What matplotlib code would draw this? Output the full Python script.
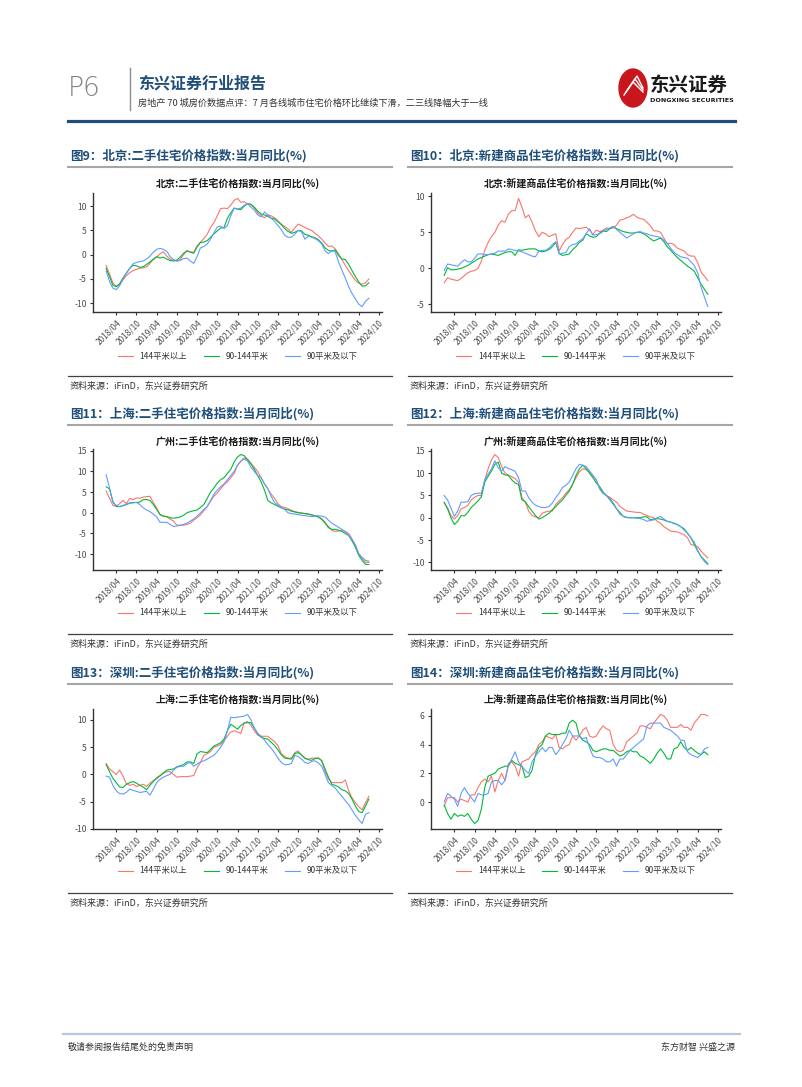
import numpy as np
import pandas as pd
import matplotlib
matplotlib.use('Agg')
import matplotlib.pyplot as plt
from matplotlib.lines import Line2D
from matplotlib.patches import Circle
from matplotlib.ticker import MultipleLocator, FormatStrFormatter

plt.rcParams['font.family'] = ['Noto Sans CJK SC', 'DejaVu Sans']
plt.rcParams['axes.unicode_minus'] = False

# ---- data: monthly YoY (%), 2018/01 - 2024/07 ----
months = pd.period_range('2018-01', '2024-07', freq='M')
tick_labels = ['2018/04', '2018/10', '2019/04', '2019/10', '2020/04', '2020/10', '2021/04',
               '2021/10', '2022/04', '2022/10', '2023/04', '2023/10', '2024/04', '2024/10']
series_names = ['144平米以上', '90-144平米', '90平米及以下']

bj_2nd_144 = [-2.2, -4.0, -5.8, -6.5, -6.2, -5.2, -4.3, -3.7, -3.3, -3.0, -2.8, -2.7, -2.5, -1.8, -1.0, -0.5,
              0.2, 0.6, -0.3, -0.9, -1.2, -1.3, -1.0, 0.0, 0.8, 0.6, 0.5, 1.8, 2.6, 3.3, 4.2, 5.6,
              6.6, 8.0, 9.5, 9.6, 9.5, 10.2, 11.2, 11.6, 10.8, 10.9, 10.5, 10.3, 9.6, 8.6, 8.1, 7.6,
              8.2, 8.0, 7.6, 7.0, 6.3, 5.8, 5.3, 4.6, 5.5, 6.3, 6.0, 5.6, 5.3, 5.0, 4.4, 3.9,
              3.2, 2.4, 1.7, 1.8, 1.2, 0.2, -1.0, -2.2, -3.3, -4.3, -5.3, -5.9, -6.1, -5.8, -5.0]
bj_2nd_90144 = [-2.8, -4.5, -6.3, -6.6, -6.0, -4.8, -3.8, -2.8, -2.2, -2.3, -2.6, -2.5, -2.0, -1.5, -0.9, -0.4,
                -0.7, -0.5, -0.9, -1.2, -1.3, -1.1, -0.5, 0.3, 0.8, 0.5, 0.3, 1.6, 2.5, 2.6, 2.9, 3.6,
                4.3, 4.9, 5.5, 5.6, 7.5, 8.6, 9.6, 9.4, 9.3, 10.0, 10.5, 10.4, 9.8, 9.0, 8.4, 8.2,
                7.9, 7.5, 7.4, 6.8, 6.2, 5.4, 4.8, 4.4, 4.6, 5.0, 4.9, 4.2, 4.0, 3.7, 3.5, 3.1,
                2.4, 1.4, 0.9, 0.7, 1.0, -0.2, -0.9, -1.0, -2.0, -3.3, -4.5, -5.6, -6.5, -6.4, -5.8]
bj_2nd_90 = [-3.3, -5.5, -6.9, -7.2, -6.4, -5.0, -3.8, -2.8, -1.9, -1.6, -1.4, -1.3, -0.9, -0.3, 0.5, 1.1,
             1.3, 1.1, 0.7, -0.4, -1.0, -1.3, -1.2, -0.8, -0.7, -1.3, -1.8, -0.4, 1.4, 1.7, 2.2, 3.2,
             4.5, 5.7, 5.9, 5.4, 6.0, 8.0, 9.6, 9.4, 9.6, 10.2, 10.5, 9.8, 9.2, 8.2, 7.8, 8.8,
             8.2, 7.5, 6.9, 6.0, 5.2, 4.0, 3.6, 3.6, 4.2, 5.0, 4.7, 3.2, 3.8, 3.6, 3.3, 2.9,
             2.2, 0.8, 0.2, 0.9, 0.6, -1.5, -3.2, -4.8, -6.6, -8.0, -9.1, -10.2, -10.7, -9.6, -9.0]

bj_new_144 = [-2.0, -1.3, -1.5, -1.6, -1.7, -1.4, -1.0, -0.6, -0.4, -0.3, 0.0, 1.0, 2.5, 3.6, 4.4, 5.0,
              6.0, 6.6, 6.4, 7.5, 8.0, 8.0, 9.7, 8.5, 7.0, 7.4, 6.4, 5.2, 4.4, 5.0, 4.8, 4.4,
              4.6, 4.8, 2.4, 3.3, 4.0, 4.3, 5.0, 5.6, 5.5, 5.6, 5.7, 5.3, 4.7, 5.3, 5.1, 5.3,
              5.6, 5.5, 5.6, 6.0, 6.7, 6.8, 7.0, 7.2, 7.5, 7.1, 6.9, 6.8, 6.4, 5.9, 5.2, 5.2,
              5.0, 4.2, 3.4, 3.5, 3.3, 2.8, 2.6, 2.4, 1.9, 1.7, 1.7, 0.8, -0.5, -1.1, -1.7]
bj_new_90144 = [-1.0, 0.1, -0.2, -0.2, -0.1, 0.0, 0.2, 0.4, 0.7, 1.0, 1.3, 1.5, 1.7, 1.9, 2.0, 1.9,
                1.8, 2.0, 2.2, 2.3, 2.3, 1.8, 2.6, 2.5, 2.6, 2.7, 2.7, 2.7, 2.4, 2.3, 2.4, 2.6,
                3.0, 3.6, 2.1, 1.8, 1.9, 2.0, 2.6, 3.0, 3.6, 3.9, 4.8, 4.5, 4.3, 4.4, 4.9, 5.2,
                5.1, 5.5, 5.8, 5.5, 5.3, 5.1, 5.0, 4.9, 4.9, 5.0, 5.0, 4.8, 4.5, 4.1, 3.8, 4.0,
                4.2, 3.7, 3.0, 2.5, 2.0, 1.5, 1.1, 0.7, 0.3, 0.0, -0.4, -1.3, -2.2, -2.9, -3.6]
bj_new_90 = [-0.3, 0.6, 0.5, 0.4, 0.3, 0.8, 1.2, 0.9, 0.9, 1.4, 2.0, 2.0, 1.9, 1.9, 2.0, 2.1,
             2.4, 2.4, 2.4, 2.7, 2.6, 2.5, 2.4, 2.3, 2.1, 1.9, 1.7, 1.6, 2.4, 2.5, 2.5, 2.8,
             3.3, 3.7, 2.0, 2.1, 2.2, 3.0, 3.3, 3.4, 3.8, 4.1, 4.8, 5.5, 4.6, 4.7, 4.8, 5.1,
             5.4, 5.6, 5.8, 5.4, 5.0, 4.6, 4.2, 4.5, 4.8, 5.0, 5.1, 4.9, 4.8, 4.6, 4.5, 4.4,
             4.3, 3.9, 3.5, 2.8, 2.2, 1.9, 1.6, 1.5, 1.4, 0.9, 0.4, -0.6, -2.6, -4.0, -5.3]

gz_2nd_144 = [5.3, 3.5, 1.8, 1.6, 2.2, 3.0, 2.2, 3.5, 3.2, 3.6, 3.5, 3.8, 3.9, 4.0, 2.5, 1.2,
              -0.5, -0.8, -1.0, -1.5, -2.0, -3.0, -3.0, -3.0, -2.8, -2.5, -1.8, -1.2, -0.5, 0.5, 1.5, 2.8,
              4.0, 4.8, 5.8, 6.8, 7.5, 8.5, 9.5, 11.5, 12.5, 13.3, 13.0, 12.0, 11.0, 10.0, 8.5, 7.0,
              5.8, 4.5, 3.5, 2.2, 1.5, 1.3, 1.0, 0.6, 0.3, 0.1, 0.0, -0.2, -0.3, -0.5, -0.7, -1.0,
              -1.4, -2.3, -3.3, -4.2, -4.5, -4.4, -4.2, -4.5, -5.0, -6.3, -7.8, -9.8, -11.0, -12.0, -12.0]
gz_2nd_90144 = [6.3, 5.8, 2.8, 1.5, 1.5, 1.7, 2.0, 2.4, 2.5, 2.5, 2.6, 3.2, 3.2, 3.0, 2.0, 0.8,
                -0.4, -0.8, -0.9, -1.2, -1.3, -1.2, -1.0, -0.6, 0.0, 0.3, 0.5, 0.7, 1.3, 2.0, 3.5, 5.0,
                6.0, 7.2, 8.0, 8.5, 9.5, 10.5, 12.3, 13.5, 14.1, 13.8, 12.8, 11.8, 10.5, 9.0, 7.5, 5.5,
                3.0, 2.4, 2.0, 1.6, 1.2, 0.9, 0.7, 0.4, 0.2, 0.0, -0.1, -0.2, -0.3, -0.5, -0.8, -1.0,
                -1.6, -2.5, -3.6, -4.0, -4.0, -4.2, -4.5, -5.0, -5.5, -6.8, -8.3, -10.3, -11.5, -12.5, -12.5]
gz_2nd_90 = [9.2, 6.0, 2.5, 1.8, 1.5, 1.8, 2.0, 2.3, 2.4, 2.5, 2.0, 1.2, 0.7, 0.3, -0.3, -1.0,
             -2.3, -2.3, -2.3, -2.8, -3.3, -3.2, -3.0, -2.8, -2.5, -2.0, -1.5, -0.8, 0.0, 0.8, 1.5, 3.0,
             4.5, 5.5, 6.3, 7.0, 8.0, 9.0, 10.0, 11.5, 12.5, 13.0, 12.5, 11.0, 10.0, 9.0, 8.5, 7.0,
             5.8, 4.0, 2.5, 1.8, 1.3, 0.8, 0.0, -0.2, -0.3, -0.4, -0.6, -0.7, -0.8, -0.9, -0.8, -0.7,
             -0.8, -1.0, -1.8, -2.5, -3.0, -3.5, -4.0, -4.6, -5.5, -6.5, -7.8, -10.0, -10.8, -11.5, -11.7]

gz_new_144 = [3.3, 2.2, 0.5, -0.3, 0.5, 2.0, 2.3, 2.8, 4.0, 4.6, 5.0, 5.0, 8.5, 11.0, 13.0, 14.2,
              13.5, 11.5, 10.0, 9.6, 9.2, 8.8, 8.0, 4.5, 3.5, 1.5, 0.5, 0.2, 0.0, 1.0, 1.3, 1.5,
              1.5, 3.0, 3.8, 4.5, 5.5, 6.3, 7.5, 9.0, 10.3, 11.0, 10.8, 10.3, 9.5, 8.5, 6.5, 5.5,
              5.0, 4.6, 4.0, 3.5, 2.5, 2.0, 1.5, 1.4, 1.3, 1.2, 1.2, 0.8, 0.5, 0.2, 0.0, -0.8,
              -1.2, -2.0, -2.5, -3.0, -3.1, -3.2, -3.5, -3.8, -4.5, -6.0, -6.2, -6.5, -7.5, -8.3, -9.0]
gz_new_90144 = [3.5, 2.0, 0.0, -1.5, -0.8, 0.5, 0.4, 1.2, 2.3, 3.0, 3.8, 4.7, 8.0, 9.3, 10.5, 12.0,
                12.5, 10.0, 9.6, 9.5, 8.5, 7.8, 7.5, 4.0, 3.6, 2.5, 1.5, 0.5, -0.3, 0.0, 0.5, 1.0,
                1.8, 2.5, 3.3, 4.0, 5.0, 6.0, 7.5, 9.5, 11.0, 11.8, 11.0, 10.0, 9.0, 7.8, 7.0, 5.8,
                5.0, 4.3, 3.3, 2.0, 1.2, 0.3, 0.1, 0.0, 0.0, 0.0, 0.0, 0.2, 0.2, -0.5, -0.3, -0.2,
                -0.3, -0.5, -0.8, -1.0, -1.3, -1.5, -2.0, -2.5, -3.5, -4.5, -6.0, -7.5, -8.7, -9.5, -10.3]
gz_new_90 = [5.0, 4.0, 2.2, 0.3, 1.5, 3.5, 3.5, 3.6, 5.0, 5.4, 5.5, 5.5, 8.5, 9.8, 11.0, 12.8,
             11.2, 10.5, 11.5, 11.0, 10.8, 10.4, 9.0, 6.0, 6.0, 4.5, 3.5, 2.8, 2.5, 2.3, 2.3, 2.5,
             3.3, 4.5, 5.5, 6.8, 7.3, 8.0, 9.5, 11.0, 12.0, 11.8, 11.5, 10.5, 9.5, 8.5, 6.5, 5.5,
             5.0, 4.0, 3.0, 2.0, 0.8, 0.3, 0.0, 0.0, 0.0, -0.1, -0.2, -0.4, -0.8, -0.6, -0.5, 0.0,
             0.3, -0.3, -0.8, -1.0, -1.2, -1.6, -2.0, -2.8, -3.5, -4.5, -5.5, -7.3, -8.8, -9.8, -10.5]

sh_2nd_144 = [2.0, 1.0, 0.5, 0.0, 0.8, -0.3, -1.7, -2.0, -1.8, -2.2, -2.0, -1.8, -2.2, -1.6, -1.1, -0.8,
              -0.3, 0.2, 0.5, 0.5, 0.0, -0.5, -0.4, -0.4, -0.4, -0.3, -0.2, 1.2, 2.2, 3.5, 3.8, 4.2,
              5.0, 5.2, 5.5, 6.2, 7.0, 7.8, 8.0, 7.8, 7.5, 9.5, 9.7, 9.0, 8.0, 7.2, 7.0, 7.0,
              7.0, 6.5, 6.0, 5.3, 3.8, 3.3, 3.0, 3.0, 4.0, 4.3, 3.5, 3.0, 2.8, 3.0, 3.0, 3.0,
              2.6, 0.5, -0.8, -1.5, -1.5, -1.5, -1.5, -1.0, -3.0, -4.3, -5.2, -5.9, -6.5, -5.2, -4.0]
sh_2nd_90144 = [1.8, 0.5, -0.7, -1.5, -2.3, -2.4, -1.8, -1.5, -1.3, -1.6, -2.0, -2.3, -2.8, -2.0, -1.3, -0.6,
                -0.2, 0.3, 0.8, 0.9, 1.0, 1.4, 1.6, 1.8, 2.3, 2.3, 2.0, 3.8, 4.2, 4.1, 4.0, 4.6,
                5.2, 5.5, 5.8, 6.5, 8.0, 9.2, 8.8, 8.3, 9.0, 9.4, 9.5, 9.5, 8.5, 7.5, 6.8, 6.6,
                6.5, 5.9, 5.3, 4.5, 3.6, 3.0, 2.9, 2.8, 3.8, 4.0, 3.6, 3.0, 2.7, 2.6, 2.9, 3.0,
                2.5, 1.0, -0.5, -1.8, -2.0, -2.3, -2.8, -3.0, -3.5, -4.5, -5.8, -6.8, -7.0, -5.8, -4.5]
sh_2nd_90 = [-0.3, -0.5, -2.0, -3.0, -3.5, -3.6, -3.3, -2.7, -2.9, -3.1, -3.3, -3.2, -3.1, -3.8, -2.7, -1.5,
             -0.9, -0.5, -0.2, 0.0, 0.8, 1.3, 1.5, 1.5, 2.0, 2.2, 1.5, 1.9, 2.3, 2.5, 2.8, 3.2,
             3.5, 4.2, 5.0, 6.0, 8.0, 10.5, 10.4, 10.5, 10.6, 10.7, 11.0, 10.0, 8.5, 7.5, 7.0, 6.3,
             5.5, 4.8, 4.0, 3.0, 2.2, 1.8, 1.8, 2.0, 3.5, 3.3, 2.8, 2.2, 2.0, 2.4, 2.5, 2.1,
             1.5, 0.0, -1.5, -2.0, -2.5, -3.3, -4.0, -4.8, -5.5, -6.5, -7.5, -8.3, -9.0, -7.3, -7.0]

sh_new_144 = [-0.3, 0.3, 0.3, 0.3, 0.0, 0.2, 0.1, 0.0, 0.5, 0.5, 1.0, 1.4, 1.6, 1.4, 1.8, 0.7,
              1.5, 2.0, 1.5, 2.7, 2.8, 2.5, 1.8, 2.8, 2.9, 3.0, 3.3, 3.5, 4.0, 4.2, 4.6, 4.5,
              4.4, 4.7, 3.8, 3.7, 3.9, 4.0, 4.6, 4.3, 4.6, 5.0, 5.2, 4.6, 4.5, 4.6, 5.0, 5.3,
              5.1, 5.0, 4.0, 3.6, 3.5, 3.6, 4.2, 4.4, 4.6, 4.8, 5.3, 5.3, 5.2, 5.1, 5.5, 5.8,
              6.1, 6.0, 5.7, 5.2, 5.2, 5.2, 5.4, 5.2, 5.2, 5.0, 5.5, 5.8, 6.1, 6.1, 6.0]
sh_new_90144 = [-0.2, -0.8, -1.2, -0.8, -1.0, -0.9, -1.0, -0.8, -1.2, -1.5, -1.3, -0.5, 1.0, 1.8, 1.9, 2.0,
                2.3, 2.4, 2.5, 2.5, 2.9, 2.7, 2.6, 2.5, 1.7, 1.8, 2.2, 3.3, 3.8, 4.0, 4.6, 4.8,
                4.7, 4.7, 4.7, 4.8, 4.8, 5.5, 5.7, 5.5, 4.6, 4.3, 4.2, 4.0, 3.6, 3.5, 3.6, 3.7,
                3.7, 3.6, 3.6, 3.4, 3.2, 3.3, 3.5, 3.6, 3.5, 3.5, 3.2, 3.1, 2.9, 2.7, 3.0, 3.4,
                3.7, 3.4, 3.0, 3.0, 3.7, 3.8, 4.2, 3.8, 3.6, 3.8, 3.6, 3.4, 3.3, 3.5, 3.3]
sh_new_90 = [0.0, 0.6, 0.4, 0.2, -0.3, 0.6, 1.0, 0.6, 0.3, 0.0, 0.6, 0.5, 0.5, 0.6, 1.4, 1.5,
             1.5, 1.2, 1.5, 2.5, 3.0, 3.5, 2.8, 2.5, 2.2, 2.0, 2.8, 3.2, 3.5, 3.8, 3.5, 3.8,
             3.8, 3.3, 3.6, 4.0, 4.4, 5.0, 4.6, 4.6, 4.6, 4.4, 4.5, 3.8, 3.2, 3.1, 3.1, 3.0,
             2.8, 2.8, 3.0, 2.5, 3.0, 3.0, 3.3, 3.6, 3.8, 4.0, 4.2, 4.4, 5.3, 5.5, 5.5, 5.5,
             5.5, 5.2, 5.1, 5.0, 4.8, 4.6, 4.3, 4.3, 3.5, 3.3, 3.2, 3.1, 3.3, 3.7, 3.8]

headers = ['图9：北京:二手住宅价格指数:当月同比(%)', '图10：北京:新建商品住宅价格指数:当月同比(%)',
           '图11：上海:二手住宅价格指数:当月同比(%)', '图12：上海:新建商品住宅价格指数:当月同比(%)',
           '图13：深圳:二手住宅价格指数:当月同比(%)', '图14：深圳:新建商品住宅价格指数:当月同比(%)']
inner_titles = ['北京:二手住宅价格指数:当月同比(%)', '北京:新建商品住宅价格指数:当月同比(%)',
                '广州:二手住宅价格指数:当月同比(%)', '广州:新建商品住宅价格指数:当月同比(%)',
                '上海:二手住宅价格指数:当月同比(%)', '上海:新建商品住宅价格指数:当月同比(%)']
panel_data = [(bj_2nd_144, bj_2nd_90144, bj_2nd_90), (bj_new_144, bj_new_90144, bj_new_90),
              (gz_2nd_144, gz_2nd_90144, gz_2nd_90), (gz_new_144, gz_new_90144, gz_new_90),
              (sh_2nd_144, sh_2nd_90144, sh_2nd_90), (sh_new_144, sh_new_90144, sh_new_90)]
y_steps = [5, 5, 5, 5, 5, 2]
source = '资料来源：iFinD，东兴证券研究所'

# ---- page layout ----
W, H = 802, 1087
fig = plt.figure(figsize=(W / 100, H / 100), dpi=100)
fig.patch.set_facecolor('white')

def fx(x):
    return x / W

def fy(y):
    return 1 - y / H

def hline(x0, x1, y, color, lw):
    fig.add_artist(Line2D([fx(x0), fx(x1)], [fy(y), fy(y)], color=color, lw=lw,
                          transform=fig.transFigure))

blue = '#1F4E79'
colors = ['#F8766D', '#00BA38', '#619CFF']
xpos = np.arange(len(months))
tick_pos = [3 + 6 * i for i in range(len(tick_labels))]

# header
fig.text(fx(68), fy(88), 'P6', fontsize=19, color='#808080', va='center', family='DejaVu Sans',
         fontweight='light')
fig.add_artist(Line2D([fx(130), fx(130)], [fy(68), fy(110)], color='#8C8C8C', lw=1,
                      transform=fig.transFigure))
fig.text(fx(138), fy(83), '东兴证券行业报告', fontsize=11.5, color=blue, fontweight='bold', va='center')
fig.text(fx(138), fy(103), '房地产 70 城房价数据点评：7 月各线城市住宅价格环比继续下滑，二三线降幅大于一线',
         fontsize=6.6, color='#333333', va='center', style='italic')
fig.add_artist(Circle((fx(633), fy(88)), 14 / W, color='#C8161D', transform=fig.transFigure))
for k in range(3):
    fig.add_artist(Line2D([fx(624 + 2 * k), fx(633 + 2 * k), fx(643)],
                          [fy(95 - 3 * k), fy(82 - 3 * k), fy(92 - 2 * k)], color='white', lw=1,
                          transform=fig.transFigure))
fig.text(fx(650), fy(85), '东兴证券', fontsize=14, color='#1A1A1A', fontweight='bold', va='center')
fig.text(fx(650), fy(101), 'DONGXING SECURITIES', fontsize=4.6, color='#1A1A1A', fontweight='bold',
         va='center', family='DejaVu Sans')
hline(68, 735, 121, blue, 2.3)

# footer
hline(63, 740, 1034, '#B7C9D9', 1.6)
fig.text(fx(68), fy(1047), '敬请参阅报告结尾处的免责声明', fontsize=6.5, color='#333333', va='center')
fig.text(fx(735), fy(1047), '东方财智 兴盛之源', fontsize=6.5, color='#333333', va='center', ha='right')

# ---- panels ----
col_x = [(93, 382), (431, 721)]
col_frame = [(68, 392), (408, 732)]
row_y = [(193, 312), (449, 570), (709, 829)]
row_head = [156, 414, 673]
row_head_line = [167, 425, 684]
row_inner = [183, 441, 699]
row_legend = [356, 613, 871]
row_src_line = [376, 634, 893]
row_src = [386, 644, 903]

for i in range(6):
    r, c = divmod(i, 2)
    x0, x1 = col_x[c]
    y0, y1 = row_y[r]
    fl, fr = col_frame[c]

    fig.text(fx(fl + 2), fy(row_head[r]), headers[i], fontsize=9, fontweight='bold', color=blue,
             va='center')
    hline(fl, fr, row_head_line[r], '#A6A6A6', 1.5)
    fig.text(fx((x0 + x1) / 2), fy(row_inner[r]), inner_titles[i], fontsize=7.2, fontweight='bold',
             color='#1A1A1A', ha='center', va='center')
    hline(fl, fr, row_src_line[r], '#404040', 0.9)
    fig.text(fx(fl + 2), fy(row_src[r]), source, fontsize=6.5, color='#333333', va='center',
             style='italic')

    ax = fig.add_axes([fx(x0), fy(y1), (x1 - x0) / W, (y1 - y0) / H])
    for vals, col, name in zip(panel_data[i], colors, series_names):
        ax.plot(xpos, vals, color=col, lw=0.8, label=name)
    ax.margins(x=0.05, y=0.05)
    ax.yaxis.set_major_locator(MultipleLocator(y_steps[i]))
    ax.yaxis.set_major_formatter(FormatStrFormatter('%d'))
    ax.set_xticks(tick_pos)
    ax.set_xticklabels(tick_labels, rotation=45, ha='right', rotation_mode='anchor',
                       fontsize=6, color='#4D4D4D')
    ax.tick_params(axis='y', labelsize=6.2, labelcolor='#4D4D4D')
    ax.tick_params(length=2.5, width=0.8, color='#333333', pad=2)
    for s in ['top', 'right']:
        ax.spines[s].set_visible(False)
    for s in ['left', 'bottom']:
        ax.spines[s].set_color('#333333')
        ax.spines[s].set_linewidth(1.0)
    ax.legend(loc='center', bbox_to_anchor=(fx((x0 + x1) / 2), fy(row_legend[r])),
              bbox_transform=fig.transFigure, ncol=3, frameon=False, fontsize=6,
              handlelength=1.8, columnspacing=2.0, labelcolor='#333333')

fig.savefig('out.png', dpi=100, facecolor='white')
